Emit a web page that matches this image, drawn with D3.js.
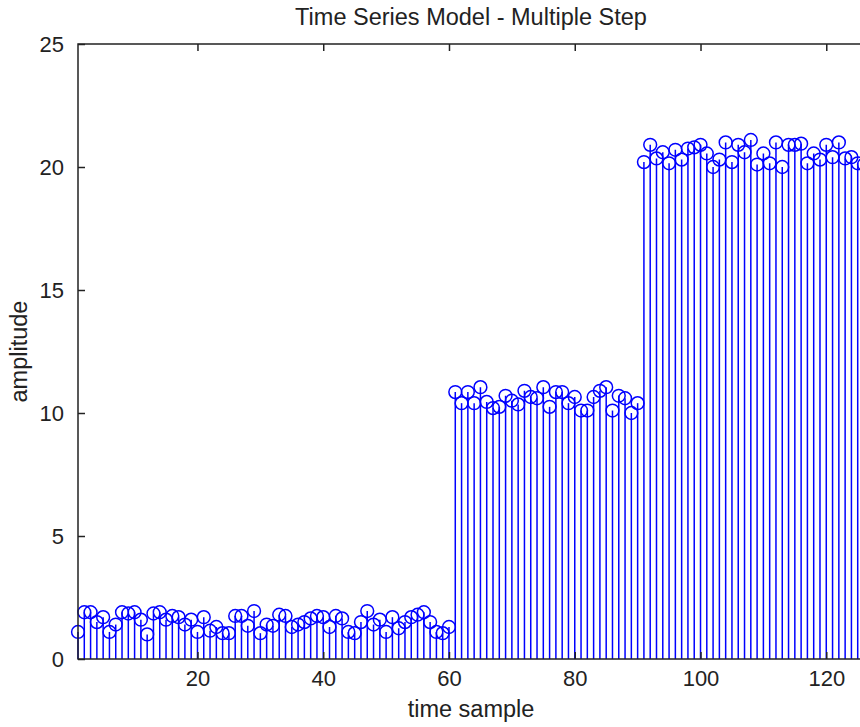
<!DOCTYPE html>
<html>
<head>
<meta charset="utf-8">
<script src="https://cdn.jsdelivr.net/npm/d3@7"></script>
<style>
  html, body { margin: 0; padding: 0; background: #fff; }
  svg { display: block; font-family: "Liberation Sans", Arial, sans-serif; }
</style>
</head>
<body>
<svg id="chart" width="860" height="727"></svg>
<script>
// Stem samples: three level segments of a multiple-step series
const lowLevel = [
  1.1, 1.9, 1.9, 1.5, 1.7, 1.1, 1.4, 1.9, 1.85, 1.9,
  1.6, 1.0, 1.85, 1.9, 1.6, 1.75, 1.7, 1.4, 1.6, 1.1,
  1.7, 1.15, 1.3, 1.05, 1.05, 1.75, 1.75, 1.35, 1.95, 1.05,
  1.4, 1.35, 1.8, 1.75, 1.3, 1.4, 1.5, 1.65, 1.75, 1.7,
  1.3, 1.75, 1.65, 1.1, 1.05, 1.5, 1.95, 1.4, 1.6, 1.1,
  1.7, 1.25, 1.5, 1.7, 1.8, 1.9, 1.5, 1.1, 1.05, 1.3
];
const midLevel = [
  10.85, 10.4, 10.85, 10.4, 11.05, 10.45, 10.2, 10.25, 10.7, 10.5,
  10.35, 10.9, 10.65, 10.6, 11.05, 10.25, 10.85, 10.85, 10.4, 10.65,
  10.1, 10.1, 10.65, 10.9, 11.05, 10.1, 10.7, 10.6, 10.0, 10.4
];
const highLevel = [
  20.2, 20.9, 20.35, 20.6, 20.15, 20.7, 20.3, 20.75, 20.8, 20.9,
  20.55, 20.0, 20.3, 21.0, 20.2, 20.9, 20.6, 21.1, 20.1, 20.55,
  20.15, 21.0, 20.0, 20.9, 20.9, 20.95, 20.15, 20.55, 20.3, 20.9,
  20.4, 21.0, 20.35, 20.4, 20.15, 20.1
];
const xTicks = [20, 40, 60, 80, 100, 120];
const yTicks = [0, 5, 10, 15, 20, 25];
const xLimits = [1, 126];
const yLimits = [0, 25];

const amplitude = lowLevel.concat(midLevel, highLevel);
const samples = amplitude.map((v, i) => ({ t: i + 1, v: v }));

const svg = d3.select("#chart");
const plotLeft = 78, plotRight = 864, plotTop = 44, plotBottom = 659;
const tickLen = 7;
const blue = "#0000ff";
const textColor = "#222";
const tickFont = 22, labelFont = 23.5;

const x = d3.scaleLinear().domain(xLimits).range([plotLeft, plotRight]);
const y = d3.scaleLinear().domain(yLimits).range([plotBottom, plotTop]);

svg.append("rect").attr("width", 860).attr("height", 727).attr("fill", "#fff");

// stems
svg.append("g")
  .selectAll("line")
  .data(samples)
  .join("line")
  .attr("x1", d => x(d.t)).attr("x2", d => x(d.t))
  .attr("y1", y(0)).attr("y2", d => y(d.v))
  .attr("stroke", blue).attr("stroke-width", 1.5);

// markers
svg.append("g")
  .selectAll("circle")
  .data(samples)
  .join("circle")
  .attr("cx", d => x(d.t)).attr("cy", d => y(d.v))
  .attr("r", 6.4)
  .attr("fill", "none")
  .attr("stroke", blue).attr("stroke-width", 1.5);

// axes box with inward ticks
const axisColor = "#222";
const fmt = d3.format("d");

const bottomAxis = d3.axisBottom(x).tickValues(xTicks).tickSize(-tickLen).tickPadding(11).tickFormat(fmt);
const topAxis = d3.axisTop(x).tickValues(xTicks).tickSize(-tickLen).tickFormat("");
const leftAxis = d3.axisLeft(y).tickValues(yTicks).tickSize(-tickLen).tickPadding(14).tickFormat(fmt);

function styleAxis(g) {
  g.select(".domain").remove();
  g.selectAll(".tick line").attr("stroke", axisColor).attr("stroke-width", 1.5);
  g.selectAll(".tick text").attr("fill", textColor).attr("font-size", tickFont)
    .attr("font-family", "Liberation Sans, Arial, sans-serif");
}

svg.append("g").attr("transform", `translate(0,${plotBottom})`).call(bottomAxis).call(styleAxis);
svg.append("g").attr("transform", `translate(0,${plotTop})`).call(topAxis).call(styleAxis);
svg.append("g").attr("transform", `translate(${plotLeft},0)`).call(leftAxis).call(styleAxis);

svg.append("rect")
  .attr("x", plotLeft).attr("y", plotTop)
  .attr("width", plotRight - plotLeft).attr("height", plotBottom - plotTop)
  .attr("fill", "none").attr("stroke", axisColor).attr("stroke-width", 1.5);

// labels
svg.append("text")
  .attr("x", (plotLeft + plotRight) / 2).attr("y", 25)
  .attr("text-anchor", "middle").attr("font-size", labelFont).attr("fill", textColor)
  .text("Time Series Model - Multiple Step");

svg.append("text")
  .attr("x", (plotLeft + plotRight) / 2).attr("y", 717)
  .attr("text-anchor", "middle").attr("font-size", labelFont).attr("fill", textColor)
  .text("time sample");

svg.append("text")
  .attr("transform", `translate(27,${(plotTop + plotBottom) / 2}) rotate(-90)`)
  .attr("text-anchor", "middle").attr("font-size", labelFont).attr("fill", textColor)
  .text("amplitude");
</script>
</body>
</html>
